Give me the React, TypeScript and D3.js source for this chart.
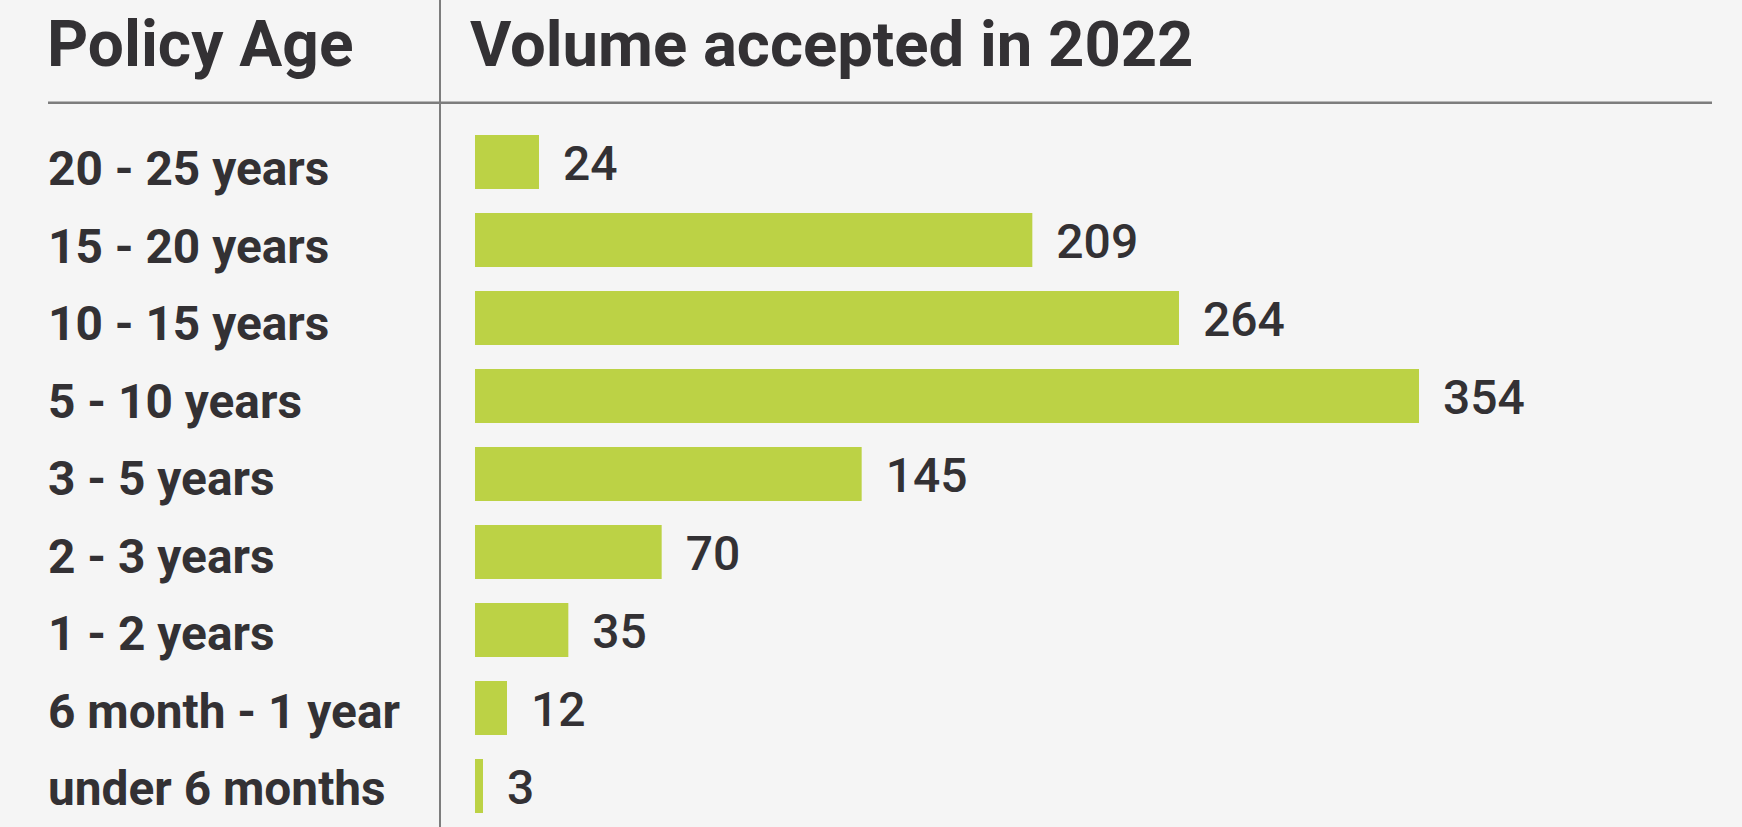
import React from "react";
import * as d3 from "d3";

const categories = [
  "20 - 25 years",
  "15 - 20 years",
  "10 - 15 years",
  "5 - 10 years",
  "3 - 5 years",
  "2 - 3 years",
  "1 - 2 years",
  "6 month - 1 year",
  "under 6 months",
];
const volumes = [24, 209, 264, 354, 145, 70, 35, 12, 3];
const headers = ["Policy Age", "Volume accepted in 2022"];

const W = 1742;
const H = 827;
const TEXT = "#333134";
const BAR = "#bcd245";
const RULE = "#7d7d7d";
const FONT = "Roboto, 'Noto Sans', sans-serif";

export default function App() {
  const x = d3.scaleLinear().domain([0, 354]).range([475, 1419]);
  const y = d3
    .scaleBand<string>()
    .domain(categories)
    .range([135, 813])
    .paddingInner(24 / 78)
    .paddingOuter(0);
  // row labels sit in their own column with a slightly tighter rhythm
  const labelY = d3.scalePoint<string>().domain(categories).range([185.3, 805]);

  const rows = categories.map((c, i) => ({ c, v: volumes[i] }));

  return (
    <svg
      width={W}
      height={H}
      style={{ position: "absolute", left: 0, top: 0, display: "block" }}
      fontFamily={FONT}
    >
      <rect x={0} y={0} width={W} height={H} fill="#f5f5f5" />

      <text x={47} y={66} fontSize={64} fontWeight={700} fill={TEXT}>
        {headers[0]}
      </text>
      <text x={470} y={66} fontSize={63.4} fontWeight={700} fill={TEXT}>
        {headers[1]}
      </text>

      <line x1={48} x2={1712} y1={102.7} y2={102.7} stroke={RULE} strokeWidth={2.5} />
      <line x1={440} x2={440} y1={0} y2={H} stroke={RULE} strokeWidth={2} />

      {rows.map((r) => (
        <text
          key={"l" + r.c}
          x={48}
          y={labelY(r.c)}
          fontSize={47.8}
          fontWeight={700}
          fill={TEXT}
        >
          {r.c}
        </text>
      ))}

      {rows.map((r) => (
        <rect
          key={"b" + r.c}
          x={x(0)}
          y={y(r.c)}
          width={x(r.v) - x(0)}
          height={y.bandwidth()}
          fill={BAR}
        />
      ))}

      {rows.map((r) => (
        <text
          key={"v" + r.c}
          x={x(r.v) + 24}
          y={(y(r.c) as number) + y.bandwidth() / 2 + 18}
          fontSize={48}
          fontWeight={500}
          fill={TEXT}
        >
          {r.v}
        </text>
      ))}
    </svg>
  );
}
